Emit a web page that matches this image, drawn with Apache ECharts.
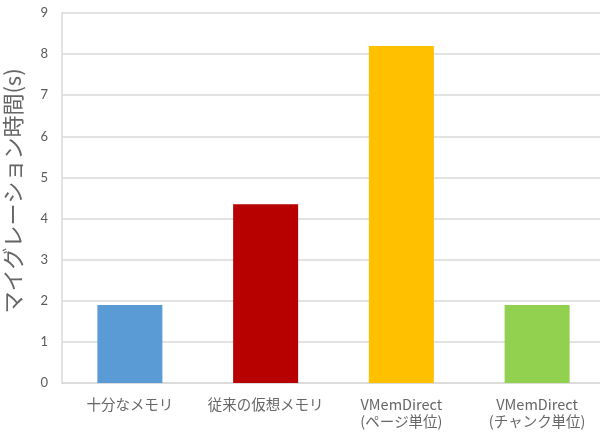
<!DOCTYPE html>
<html>
<head>
<meta charset="utf-8">
<script src="https://cdn.jsdelivr.net/npm/echarts@6/dist/echarts.min.js"></script>
<style>
  html, body { margin: 0; padding: 0; background: #fff; }
  #chart { width: 600px; height: 432px; }
</style>
</head>
<body>
<div id="chart"></div>
<script>
const categories = ['十分なメモリ', '従来の仮想メモリ', 'VMemDirect\n(ページ単位)', 'VMemDirect\n(チャンク単位)']
const times = [1.9, 4.35, 8.2, 1.9]
const barColors = ['#5B9BD5', '#B70000', '#FFC000', '#92D050']
const yTicks = [0, 1, 2, 3, 4, 5, 6, 7, 8, 9]

const font = '"Noto Sans CJK JP", "Noto Sans", sans-serif'
const gray = '#595959'
const lineGray = '#d9d9d9'

const myChart = echarts.init(document.getElementById('chart'))
myChart.setOption({
  animation: false,
  grid: {
    top: 13,
    left: 62,
    right: -5,
    bottom: 49,
    outerBoundsMode: 'none'
  },
  xAxis: {
    type: 'category',
    data: categories,
    axisLine: { lineStyle: { color: lineGray, width: 1.5 } },
    axisTick: { show: false },
    axisLabel: {
      interval: 0,
      hideOverlap: false,
      color: '#666',
      fontFamily: font,
      fontSize: 14.5,
      lineHeight: 17,
      margin: 13,
      verticalAlign: 'top'
    }
  },
  yAxis: {
    type: 'value',
    min: yTicks[0],
    max: yTicks[yTicks.length - 1],
    interval: 1,
    name: 'マイグレーション時間(s)',
    nameLocation: 'middle',
    nameGap: 38,
    nameTextStyle: {
      color: '#666',
      fontFamily: font,
      fontSize: 22,
      padding: [0, 0, 0, 14]
    },
    axisLine: { show: true, lineStyle: { color: lineGray, width: 1.5 } },
    axisTick: { show: false },
    splitLine: { lineStyle: { color: lineGray, width: 1.5 } },
    axisLabel: {
      color: gray,
      fontFamily: 'Lato, "Noto Sans", sans-serif',
      fontSize: 13,
      margin: 14
    }
  },
  series: [
    {
      type: 'bar',
      barWidth: 65,
      data: times.map((v, i) => ({ value: v, itemStyle: { color: barColors[i] } }))
    }
  ]
})
</script>
</body>
</html>
